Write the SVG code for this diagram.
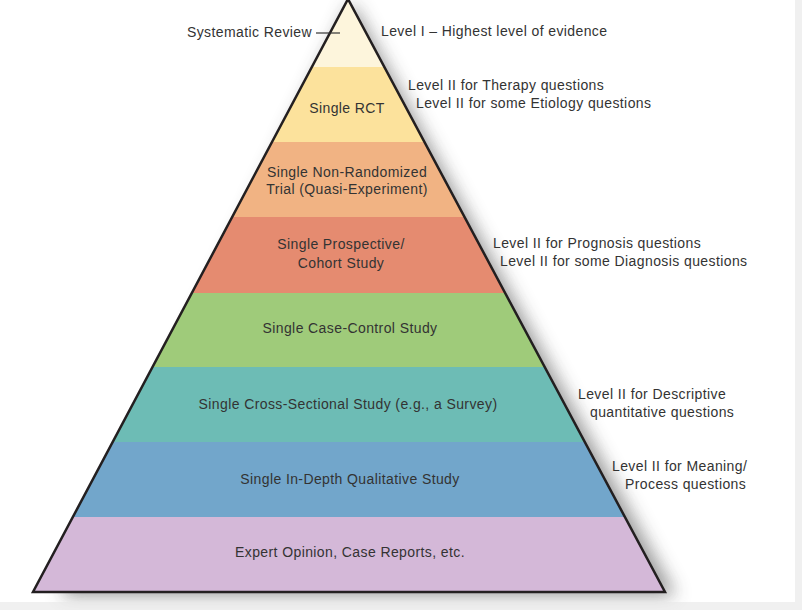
<svg xmlns="http://www.w3.org/2000/svg" width="802" height="610" viewBox="0 0 802 610">
<defs>
<filter id="sh" x="-20%" y="-20%" width="140%" height="140%">
<feGaussianBlur stdDeviation="9"/>
</filter>
<clipPath id="tri"><polygon points="348,-1 665,592 33,592"/></clipPath>
<style>
text{font-family:"Liberation Sans",Arial,sans-serif;font-size:14px;letter-spacing:0.4px;fill:#333;}
.c{text-anchor:middle;}
.band{stroke:none;}
</style>
</defs>
<rect width="802" height="610" fill="#ffffff"/>
<rect x="795" y="0" width="7" height="610" fill="#f0f0f0"/>
<rect x="0" y="602" width="802" height="8" fill="#f0f0f0"/>
<g id="shadow">
<polygon points="352,2 676,596 60,596" fill="#444" opacity="0.55" filter="url(#sh)"/>
</g>
<rect x="0" y="602" width="802" height="8" fill="#f0f0f0" opacity="0.6"/>
<g id="pyramid" clip-path="url(#tri)">
<g id="systematic-review"><rect class="band" x="0" y="-2" width="802" height="69" fill="#fdf5dc"/></g>
<g id="single-rct"><rect class="band" x="0" y="67" width="802" height="75" fill="#fce29c"/></g>
<g id="non-randomized"><rect class="band" x="0" y="142" width="802" height="75" fill="#f1b383"/></g>
<g id="prospective"><rect class="band" x="0" y="217" width="802" height="76" fill="#e58b70"/></g>
<g id="case-control"><rect class="band" x="0" y="293" width="802" height="74" fill="#9fcb7a"/></g>
<g id="cross-sectional"><rect class="band" x="0" y="367" width="802" height="75" fill="#6dbcb5"/></g>
<g id="qualitative"><rect class="band" x="0" y="442" width="802" height="75" fill="#72a6cb"/></g>
<g id="expert"><rect class="band" x="0" y="517" width="802" height="76" fill="#d4b8d8"/></g>
</g>
<polygon points="348,-1 665,592 33,592" fill="none" stroke="#231f20" stroke-width="2.5" stroke-linejoin="miter"/>
<g id="connectors">
<line x1="316" y1="33" x2="340" y2="33" stroke="#333" stroke-width="1.2"/>
</g>
<g id="labels-inside">
<text x="312" y="37" text-anchor="end">Systematic Review</text>
<text class="c" x="347" y="113">Single RCT</text>
<text class="c" x="347" y="177">Single Non-Randomized</text>
<text class="c" x="347" y="194">Trial (Quasi-Experiment)</text>
<text class="c" x="341" y="249">Single Prospective/</text>
<text class="c" x="341" y="268">Cohort Study</text>
<text class="c" x="350" y="333">Single Case-Control Study</text>
<text class="c" x="348" y="409">Single Cross-Sectional Study (e.g., a Survey)</text>
<text class="c" x="350" y="484">Single In-Depth Qualitative Study</text>
<text class="c" x="350" y="557">Expert Opinion, Case Reports, etc.</text>
</g>
<g id="labels-right">
<text x="381" y="36">Level I – Highest level of evidence</text>
<text x="408" y="90">Level II for Therapy questions</text>
<text x="416" y="108">Level II for some Etiology questions</text>
<text x="493" y="248">Level II for Prognosis questions</text>
<text x="500" y="266">Level II for some Diagnosis questions</text>
<text x="578" y="399">Level II for Descriptive</text>
<text x="590" y="417">quantitative questions</text>
<text x="612" y="471">Level II for Meaning/</text>
<text x="625" y="489">Process questions</text>
</g>
</svg>
